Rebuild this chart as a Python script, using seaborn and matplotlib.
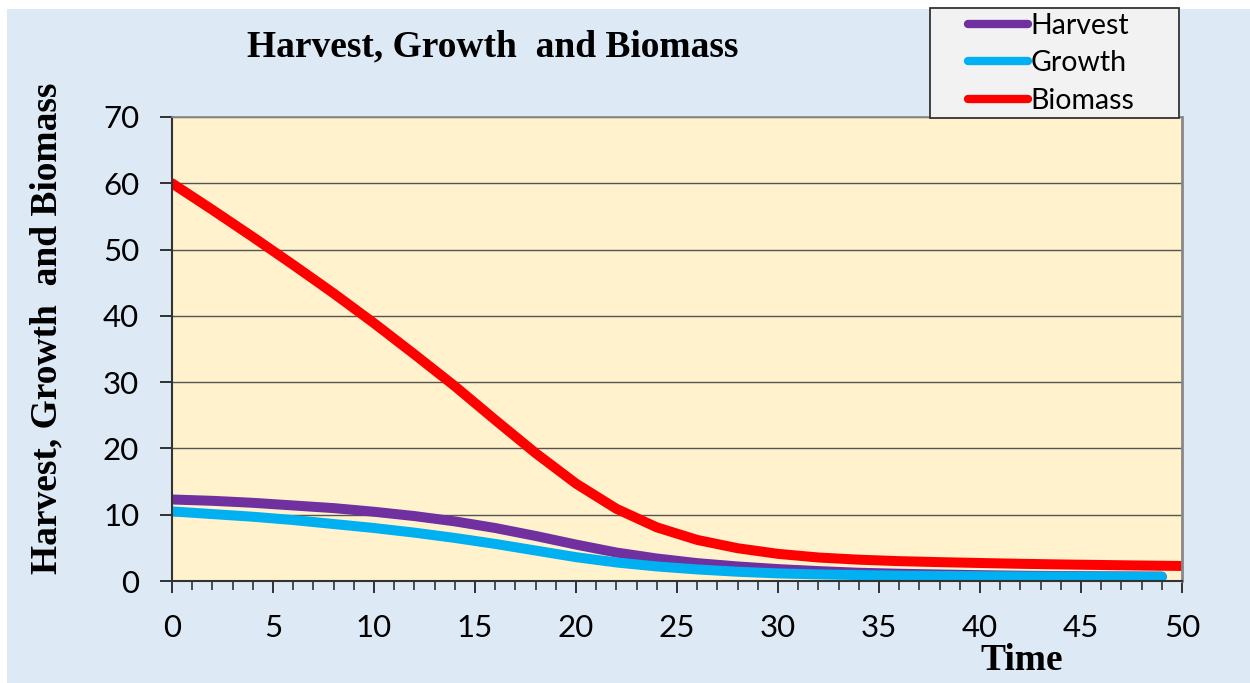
import pandas as pd
import seaborn as sns
import matplotlib.pyplot as plt
from matplotlib.lines import Line2D
from matplotlib.patches import Rectangle

# values
time_b = [0, 2, 4, 6, 8, 10, 12, 14, 16, 18, 20, 22, 24, 26, 28, 30, 32, 34, 36, 38, 40, 42, 44, 46, 48, 50]
biomass = [60.0, 56.0, 51.9, 47.7, 43.4, 38.9, 34.2, 29.4, 24.3, 19.3, 14.7, 10.9, 8.1, 6.2, 4.95, 4.1,
           3.55, 3.22, 3.0, 2.85, 2.72, 2.6, 2.5, 2.42, 2.34, 2.27]

time_hg = [0, 2, 4, 6, 8, 10, 12, 14, 16, 18, 20, 22, 24, 26, 28, 30, 32, 34, 36, 38, 40, 42, 44, 46, 48, 49]
harvest = [12.3, 12.1, 11.8, 11.4, 11.0, 10.45, 9.8, 9.0, 8.0, 6.8, 5.5, 4.3, 3.4, 2.7, 2.2, 1.8,
           1.5, 1.25, 1.1, 0.98, 0.88, 0.8, 0.75, 0.71, 0.68, 0.67]
growth = [10.5, 10.1, 9.7, 9.2, 8.6, 8.0, 7.3, 6.5, 5.6, 4.6, 3.6, 2.8, 2.2, 1.75, 1.4, 1.15,
          1.0, 0.9, 0.82, 0.77, 0.73, 0.7, 0.68, 0.66, 0.64, 0.63]

series = ["Harvest", "Growth", "Biomass"]
colors = {"Harvest": "#7030a0", "Growth": "#00b0f0", "Biomass": "#ff0000"}

df = pd.concat([
    pd.DataFrame({"Time": time_hg, "Value": harvest, "Series": "Harvest"}),
    pd.DataFrame({"Time": time_hg, "Value": growth, "Series": "Growth"}),
    pd.DataFrame({"Time": time_b, "Value": biomass, "Series": "Biomass"}),
])

fig = plt.figure(figsize=(12.5, 6.83), dpi=100)
fig.patch.set_facecolor("white")
# light blue chart area
fig.add_artist(Rectangle((7 / 1250, 0), 1, 1 - 9 / 683, transform=fig.transFigure,
                         facecolor="#dde9f5", edgecolor="none", zorder=-10))

ax = fig.add_axes([0.1376, 0.1493, 0.808, 0.6794])
ax.set_facecolor("#fff2cc")

sns.lineplot(data=df, x="Time", y="Value", hue="Series", hue_order=series,
             palette=colors, linewidth=7.2, legend=False, sort=False, ax=ax)
for line in ax.lines:
    line.set_solid_capstyle("round")
    line.set_solid_joinstyle("round")

ax.set_xlim(0, 50)
ax.set_ylim(0, 70)
ax.set_xticks(range(0, 51, 5))
ax.set_xticks(range(0, 51, 1), minor=True)
ax.set_yticks(range(0, 71, 10))
ax.grid(axis="y", color="#555555", linewidth=1.0)
ax.set_axisbelow(True)
ax.set_xlabel("")
ax.set_ylabel("")

sans = ["Lato", "DejaVu Sans"]
ax.tick_params(axis="x", which="major", length=8.6, width=1.3, direction="out", pad=15, colors="#222222")
ax.tick_params(axis="x", which="minor", length=6.5, width=1.1, direction="out", colors="#222222")
ax.tick_params(axis="y", length=8.6, width=1.3, direction="out", pad=15, colors="#222222")
for lab in ax.get_xticklabels() + ax.get_yticklabels():
    lab.set_family(sans)
    lab.set_fontsize(22.5)
    lab.set_color("black")

ax.spines["left"].set_color("#333333")
ax.spines["bottom"].set_color("#333333")
ax.spines["left"].set_linewidth(1.5)
ax.spines["bottom"].set_linewidth(1.5)
ax.spines["right"].set_color("#888888")
ax.spines["top"].set_color("#888888")
ax.spines["right"].set_linewidth(2)
ax.spines["top"].set_linewidth(1.2)

serif = {"family": "Liberation Serif", "weight": "bold", "size": 27}
fig.text(0.394, 0.931, "Harvest, Growth  and Biomass", ha="center", va="center", **serif)
fig.text(47 / 1250, 1 - 328 / 683, "Harvest, Growth  and Biomass", rotation=90,
         ha="center", va="center", **serif)
fig.text(1022 / 1250, 1 - 660 / 683, "Time", ha="center", va="center", **serif)

# legend box
fig.add_artist(Rectangle((930 / 1250, 1 - 118 / 683), 249 / 1250, 110 / 683, transform=fig.transFigure,
                         facecolor="#f2f2f2", edgecolor="#333333", linewidth=1.3, zorder=4))
handles = [Line2D([], [], color=colors[s], linewidth=6, solid_capstyle="round") for s in series]
fig.legend(handles, series, loc="upper left", bbox_to_anchor=(968 / 1250, 1 - 13 / 683),
           frameon=False, prop={"family": sans, "size": 20.5}, handlelength=2.1,
           handletextpad=0.1, labelspacing=0.4, borderpad=0, borderaxespad=0)

plt.savefig("out.png", dpi=100)
